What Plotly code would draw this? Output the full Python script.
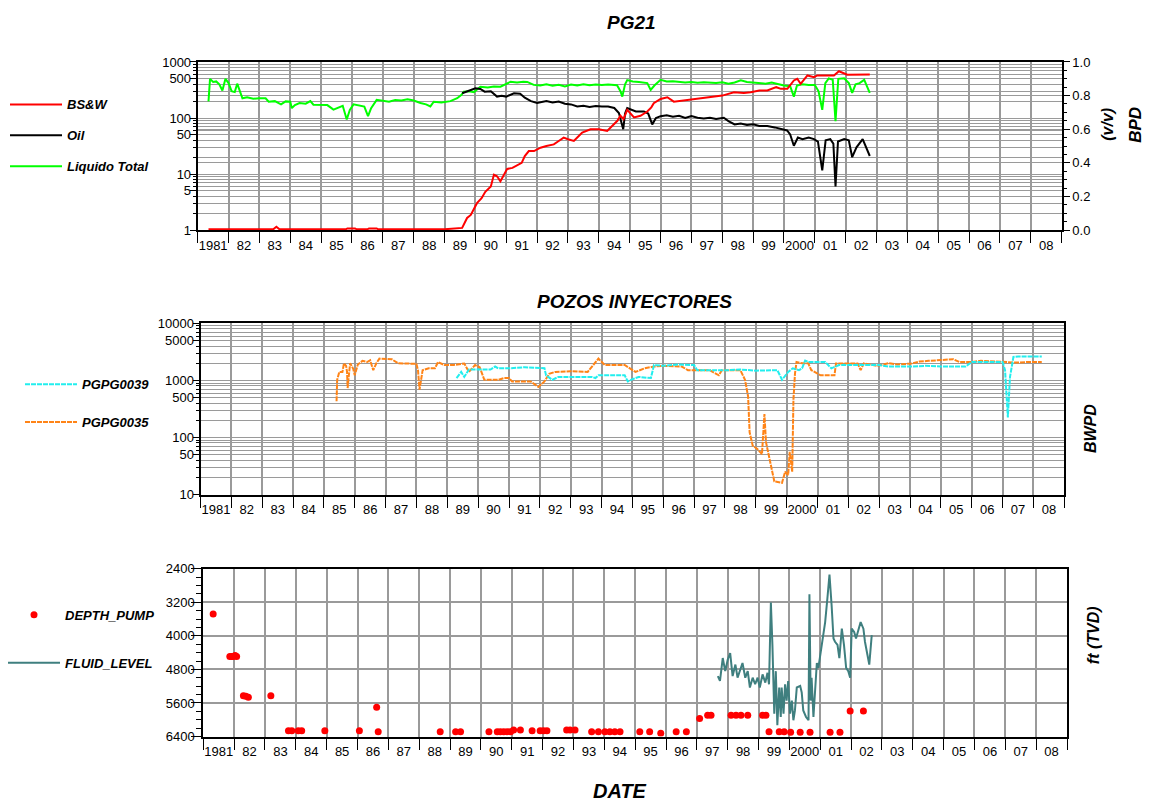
import plotly.graph_objects as go

W, H = 1151, 812
FONT = "Liberation Sans, Arial, sans-serif"

# ---------------- DATA ----------------
year_labels = ["1981", "82", "83", "84", "85", "86", "87", "88", "89", "90", "91", "92", "93", "94",
               "95", "96", "97", "98", "99", "2000", "01", "02", "03", "04", "05", "06", "07", "08"]

# Panel 1: PG21
bsw_t = [1981.35, 1983.45, 1983.55, 1983.65, 1985.80, 1985.85, 1986.10, 1986.15, 1986.50, 1986.55, 1986.80, 1986.85,
         1989.00, 1989.30, 1989.57, 1989.73, 1989.85, 1990.05, 1990.20, 1990.32, 1990.50, 1990.60, 1990.70, 1990.81,
         1991.03, 1991.20, 1991.35, 1991.50, 1991.60, 1991.73, 1991.90, 1992.11, 1992.30, 1992.54, 1992.70, 1992.86,
         1993.00, 1993.19, 1993.35, 1993.46, 1993.73, 1994.00, 1994.27, 1994.49, 1994.60, 1994.70, 1994.80, 1994.92,
         1995.05, 1995.14, 1995.35, 1995.57, 1995.70, 1995.78, 1996.00, 1996.22, 1996.43, 1996.70, 1996.97, 1997.30,
         1997.62, 1998.00, 1998.38, 1998.70, 1998.92, 1999.20, 1999.46, 1999.75, 1999.90, 2000.11, 2000.32, 2000.43,
         2000.54, 2000.76, 2000.97, 2001.08, 2001.62, 2001.78, 2002.05, 2002.70, 2002.78]
bsw_v = [0.005, 0.005, 0.02, 0.005, 0.005, 0.01, 0.01, 0.005, 0.005, 0.01, 0.01, 0.005,
         0.005, 0.01, 0.013, 0.072, 0.09, 0.16, 0.19, 0.228, 0.26, 0.33, 0.32, 0.29,
         0.364, 0.37, 0.384, 0.40, 0.44, 0.47, 0.47, 0.49, 0.50, 0.51, 0.53, 0.55,
         0.54, 0.53, 0.56, 0.58, 0.60, 0.60, 0.59, 0.63, 0.65, 0.68, 0.66, 0.715,
         0.69, 0.67, 0.68, 0.705, 0.73, 0.755, 0.78, 0.79, 0.764, 0.77, 0.774, 0.78,
         0.79, 0.80, 0.82, 0.815, 0.82, 0.83, 0.83, 0.85, 0.84, 0.84, 0.89, 0.90,
         0.87, 0.92, 0.91, 0.92, 0.92, 0.945, 0.924, 0.924, 0.925]

oil_t = [1989.57, 1989.75, 1990.00, 1990.16, 1990.30, 1990.50, 1990.70, 1990.85, 1991.00, 1991.25, 1991.45, 1991.60,
         1991.80, 1992.00, 1992.10, 1992.30, 1992.50, 1992.70, 1992.90, 1993.10, 1993.30, 1993.50, 1993.70, 1993.90,
         1994.10, 1994.30, 1994.50, 1994.65, 1994.79, 1994.85, 1994.92, 1995.05, 1995.20, 1995.46, 1995.60, 1995.73,
         1995.85, 1996.00, 1996.20, 1996.40, 1996.60, 1996.80, 1997.00, 1997.20, 1997.40, 1997.60, 1997.80, 1998.05,
         1998.20, 1998.40, 1998.60, 1998.80, 1999.00, 1999.20, 1999.46, 1999.70, 1999.90, 2000.10, 2000.20, 2000.32,
         2000.45, 2000.60, 2000.80, 2000.97, 2001.10, 2001.24, 2001.35, 2001.50, 2001.60, 2001.67, 2001.75, 2001.95,
         2002.10, 2002.21, 2002.35, 2002.55, 2002.78]
oil_v = [277, 300, 339, 330, 295, 300, 241, 250, 241, 277, 270, 230,
         200, 185, 190, 200, 190, 197, 180, 175, 161, 165, 158, 163,
         160, 161, 151, 123, 63, 120, 151, 140, 131, 131, 120, 77,
         100, 108, 112, 105, 110, 100, 108, 101, 98, 101, 96, 101,
         88, 77, 80, 75, 77, 72, 72, 68, 63, 60, 51, 32,
         45, 42, 45, 42, 38, 11.6, 40, 42, 35, 6, 38, 42,
         40, 20, 30, 42, 21]

liq_t = [1981.35, 1981.40, 1981.50, 1981.60, 1981.70, 1981.80, 1981.90, 1982.00, 1982.10, 1982.20, 1982.28, 1982.38,
         1982.45, 1982.60, 1982.80, 1983.00, 1983.20, 1983.30, 1983.50, 1983.70, 1983.85, 1984.00, 1984.05, 1984.15,
         1984.30, 1984.50, 1984.65, 1984.75, 1985.00, 1985.20, 1985.40, 1985.55, 1985.70, 1985.83, 1985.93, 1986.05,
         1986.20, 1986.40, 1986.52, 1986.62, 1986.80, 1987.00, 1987.20, 1987.40, 1987.60, 1987.80, 1988.00, 1988.22,
         1988.40, 1988.54, 1988.65, 1988.90, 1989.19, 1989.41, 1989.55, 1989.62, 1989.80, 1989.95, 1990.16, 1990.40,
         1990.60, 1990.81, 1991.00, 1991.14, 1991.35, 1991.55, 1991.68, 1991.89, 1992.10, 1992.30, 1992.50, 1992.70,
         1992.90, 1993.10, 1993.30, 1993.50, 1993.70, 1993.90, 1994.10, 1994.30, 1994.59, 1994.70, 1994.76, 1994.85,
         1994.92, 1995.10, 1995.30, 1995.57, 1995.68, 1995.80, 1996.00, 1996.20, 1996.40, 1996.60, 1996.80, 1997.00,
         1997.20, 1997.40, 1997.60, 1997.80, 1998.00, 1998.20, 1998.40, 1998.60, 1998.80, 1999.00, 1999.20, 1999.40,
         1999.60, 1999.80, 2000.00, 2000.20, 2000.32, 2000.42, 2000.60, 2000.80, 2001.00, 2001.12, 2001.24, 2001.34,
         2001.45, 2001.58, 2001.67, 2001.76, 2001.95, 2002.10, 2002.21, 2002.32, 2002.45, 2002.60, 2002.78]
liq_v = [198, 500, 440, 450, 400, 310, 500, 420, 300, 290, 410, 280,
         225, 235, 220, 225, 225, 195, 200, 175, 198, 195, 150, 170,
         185, 180, 200, 173, 172, 170, 141, 155, 165, 94, 140, 175,
         170, 160, 108, 150, 211, 200, 195, 210, 205, 215, 205, 185,
         175, 161, 195, 190, 200, 226, 260, 295, 300, 290, 362, 350,
         365, 362, 400, 444, 430, 445, 440, 390, 380, 400, 375, 390,
         365, 395, 380, 400, 385, 395, 390, 395, 385, 300, 241, 400,
         475, 450, 440, 420, 318, 380, 480, 450, 455, 440, 430, 440,
         425, 435, 430, 420, 435, 410, 430, 470, 440, 430, 420, 410,
         430, 400, 380, 370, 240, 380, 400, 390, 390, 300, 140, 420,
         510, 480, 88, 500, 510, 420, 280, 400, 420, 480, 280]

# Panel 2: POZOS INYECTORES
p39_t = [1989.30, 1989.45, 1989.55, 1989.70, 1990.00, 1990.40, 1990.55, 1990.65, 1991.00, 1991.50, 1992.15, 1992.20,
         1992.40, 1992.60, 1993.00, 1993.70, 1993.80, 1993.90, 1994.75, 1994.85, 1995.00, 1995.20, 1995.60, 1995.70,
         1996.00, 1996.50, 1997.00, 1997.10, 1998.00, 1998.50, 1999.00, 1999.70, 1999.85, 2000.05, 2000.20, 2000.40,
         2000.50, 2000.60, 2000.70, 2001.25, 2001.45, 2001.70, 2003.00, 2003.30, 2004.00, 2004.50, 2005.00, 2005.80,
         2006.00, 2007.00, 2007.08, 2007.17, 2007.24, 2007.35, 2007.50, 2008.27]
p39_v = [1100, 1410, 1150, 1550, 1550, 1550, 1750, 1630, 1630, 1700, 1630, 1230,
         1025, 1150, 1150, 1150, 1100, 1230, 1230, 960, 1050, 1150, 1100, 1860,
         1800, 1900, 1860, 1510, 1500, 1550, 1480, 1510, 1025, 1410, 1630, 1510,
         1630, 2230, 2100, 2100, 1630, 1860, 1860, 1750, 1750, 1800, 1750, 1750,
         2100, 2100, 1510, 224, 1150, 2570, 2630, 2630]

p35_t = [1985.41, 1985.43, 1985.50, 1985.60, 1985.65, 1985.72, 1985.75, 1985.77, 1985.80, 1985.85, 1985.95, 1986.00,
         1986.10, 1986.25, 1986.40, 1986.50, 1986.60, 1986.70, 1986.80, 1987.00, 1987.20, 1987.40, 1987.60, 1987.80,
         1988.00, 1988.05, 1988.10, 1988.20, 1988.40, 1988.60, 1988.70, 1988.90, 1989.20, 1989.55, 1989.70, 1989.90,
         1990.05, 1990.20, 1990.65, 1990.85, 1991.00, 1991.10, 1991.70, 1991.95, 1992.15, 1992.30, 1992.50, 1993.00,
         1993.55, 1993.90, 1994.10, 1994.75, 1995.10, 1995.40, 1995.70, 1996.00, 1996.60, 1996.80, 1997.50, 1997.80,
         1997.90, 1998.50, 1998.65, 1998.75, 1998.80, 1998.90, 1999.05, 1999.20, 1999.28, 1999.33, 1999.50, 1999.60,
         1999.85, 1999.95, 2000.05, 2000.10, 2000.18, 2000.22, 2000.27, 2000.32, 2000.50, 2000.70, 2000.80, 2001.10,
         2001.55, 2001.60, 2002.30, 2002.40, 2002.50, 2002.95, 2003.30, 2003.60, 2004.05, 2004.30, 2004.60, 2005.00,
         2005.40, 2005.60, 2006.00, 2006.30, 2007.50, 2007.80, 2008.27]
p35_v = [431, 1020, 1410, 1400, 1990, 1800, 1410, 735, 1100, 1990, 1600, 1230,
         1900, 2200, 2100, 2250, 1510, 2000, 2410, 2400, 2350, 2000, 2000, 1980,
         1950, 1510, 690, 1510, 1630, 1630, 2100, 1860, 1860, 1980, 1410, 1860,
         1700, 1025, 1025, 1100, 1100, 960, 960, 770, 960, 1300, 1410, 1450,
         1410, 2410, 1860, 1860, 1410, 1630, 1750, 1800, 1750, 1510, 1510, 1230,
         1510, 1510, 1025, 525, 123, 72, 63, 51, 256, 83, 33, 17,
         16, 25, 22, 56, 25, 460, 1320, 2100, 2000, 1990, 1510, 1230,
         1230, 1980, 1980, 1510, 1980, 1800, 2000, 1900, 1980, 2140, 2200, 2300,
         2350, 2100, 2100, 2200, 2050, 2100, 2100]

# Panel 3: depth (ft TVD)
pump_t = [1981.32, 1981.86, 1981.92, 1981.97, 1982.03, 1982.08, 1982.30, 1982.38, 1982.46, 1983.19, 1983.76, 1983.87,
          1984.08, 1984.19, 1984.94, 1986.06, 1986.62, 1986.67, 1988.68, 1989.18, 1989.34, 1990.26, 1990.53, 1990.63,
          1990.74, 1990.85, 1990.96, 1991.06, 1991.28, 1991.66, 1991.92, 1992.03, 1992.14, 1992.78, 1992.89, 1993.05,
          1993.59, 1993.81, 1994.02, 1994.18, 1994.34, 1994.51, 1995.15, 1995.47, 1995.83, 1996.33, 1996.66, 1997.09,
          1997.35, 1997.46, 1998.11, 1998.27, 1998.43, 1998.65, 1999.13, 1999.24, 1999.34, 1999.67, 1999.83, 2000.04,
          2000.35, 2000.67, 2001.32, 2001.64, 2001.97, 2002.40]
pump_v = [3477, 4490, 4490, 4490, 4470, 4490, 5426, 5440, 5465, 5426, 6260, 6260,
          6260, 6260, 6260, 6260, 5699, 6284, 6284, 6284, 6284, 6284, 6284, 6284,
          6284, 6284, 6284, 6245, 6245, 6260, 6260, 6260, 6260, 6245, 6245, 6245,
          6284, 6284, 6284, 6284, 6284, 6284, 6284, 6284, 6323, 6284, 6284, 5972,
          5894, 5894, 5894, 5894, 5894, 5894, 5894, 5894, 6284, 6284, 6284, 6299,
          6299, 6299, 6299, 6299, 5792, 5792]

fluid_t = [1997.68, 1997.75, 1997.84, 1997.92, 1998.00, 1998.08, 1998.16, 1998.25, 1998.32, 1998.40, 1998.48, 1998.57,
           1998.65, 1998.72, 1998.81, 1998.89, 1998.97, 1999.04, 1999.13, 1999.22, 1999.29, 1999.34, 1999.40, 1999.45,
           1999.51, 1999.56, 1999.61, 1999.67, 1999.72, 1999.75, 1999.81, 1999.86, 1999.91, 1999.96, 2000.02, 2000.08,
           2000.13, 2000.18, 2000.24, 2000.35, 2000.40, 2000.45, 2000.54, 2000.62, 2000.65, 2000.69, 2000.72, 2000.78,
           2000.84, 2000.89, 2000.94, 2000.99, 2001.08, 2001.16, 2001.23, 2001.30, 2001.37, 2001.43, 2001.48, 2001.56,
           2001.62, 2001.70, 2001.77, 2001.84, 2001.91, 2001.97, 2002.02, 2002.10, 2002.16, 2002.24, 2002.31, 2002.40,
           2002.45, 2002.53, 2002.59, 2002.67]
fluid_v = [4958, 5075, 4529, 4841, 4568, 4412, 4958, 4685, 4997, 4841, 4646, 4997,
           4841, 5231, 4997, 5153, 4997, 5231, 4919, 5114, 4880, 5153, 3204, 4217,
           5855, 4841, 6128, 5231, 5933, 5231, 5855, 5153, 5543, 5075, 5855, 5543,
           6011, 5777, 5231, 5192, 5348, 5777, 5933, 6011, 3009, 5543, 4997, 5933,
           5075, 4646, 4763, 4529, 4140, 3672, 3126, 2541, 3282, 4062, 4140, 4217,
           4529, 3828, 4217, 4763, 4841, 4997, 3828, 3906, 4062, 3828, 3672, 3828,
           4140, 4451, 4685, 3984]

# ---------------- FIGURE ----------------
year_starts = list(range(1981, 2010))
year_mids = [y + 0.5 for y in range(1981, 2009)]

GRID = "#9a9a9a"
tickfont = dict(family=FONT, size=13, color="black")

def log_minor(lo, hi):
    vals = []
    for d in range(lo, hi):
        for m in (2, 3, 4, 6, 7, 8, 9):
            vals.append(m * 10 ** d)
    return vals

def xaxis_cfg(domain, anchor):
    return dict(domain=domain, anchor=anchor, range=[1981, 2009],
                tickmode="array", tickvals=year_mids, ticktext=year_labels,
                ticks="outside", ticklen=2, tickcolor="rgba(0,0,0,0)", showgrid=False,
                tickfont=tickfont, showline=True, linecolor="black", linewidth=2, mirror=True,
                minor=dict(tickmode="array", tickvals=year_starts, ticks="outside", ticklen=11,
                           tickcolor="black", tickwidth=1, showgrid=True, gridcolor=GRID, gridwidth=1.5),
                zeroline=False)

fig = go.Figure()

# drawing order: lower layers first; legend order via legendrank
fig.add_trace(go.Scatter(x=liq_t, y=liq_v, name="Liquido Total", mode="lines", line=dict(color="#00ff00", width=2),
                         xaxis="x", yaxis="y", legend="legend", legendgroup="g3", legendrank=3))
fig.add_trace(go.Scatter(x=oil_t, y=oil_v, name="Oil", mode="lines", line=dict(color="#000000", width=2),
                         xaxis="x", yaxis="y", legend="legend", legendgroup="g2", legendrank=2))
fig.add_trace(go.Scatter(x=bsw_t, y=bsw_v, name="BS&W", mode="lines", line=dict(color="#ff0000", width=2),
                         xaxis="x", yaxis="y2", legend="legend", legendgroup="g1", legendrank=1))

fig.add_trace(go.Scatter(x=p35_t, y=p35_v, name="PGPG0035", mode="lines",
                         line=dict(color="#ff8417", width=2, dash="5px,1px"),
                         xaxis="x2", yaxis="y3", legend="legend2", legendgroup="h2", legendrank=2))
fig.add_trace(go.Scatter(x=p39_t, y=p39_v, name="PGPG0039", mode="lines",
                         line=dict(color="#22eeee", width=2, dash="5px,1px"),
                         xaxis="x2", yaxis="y3", legend="legend2", legendgroup="h1", legendrank=1))

fig.add_trace(go.Scatter(x=pump_t, y=pump_v, name="DEPTH_PUMP", mode="markers",
                         marker=dict(color="#ff0000", size=7, symbol="circle"),
                         xaxis="x3", yaxis="y4", legend="legend3", legendgroup="k1", legendrank=1))
fig.add_trace(go.Scatter(x=fluid_t, y=fluid_v, name="FLUID_LEVEL", mode="lines",
                         line=dict(color="#3f7f7f", width=2),
                         xaxis="x3", yaxis="y4", legend="legend3", legendgroup="k2", legendrank=2))

dom_top_x = [197.7 / W, 1061.7 / W]
dom_mid_x = [200.5 / W, 1064.3 / W]
dom_bot_x = [203.3 / W, 1067.0 / W]
dom_top_y = [1 - 227.3 / H, 1 - 56.0 / H]
dom_mid_y = [1 - 496.7 / H, 1 - 322.3 / H]
dom_bot_y = [1 - 743.3 / H, 1 - 572.3 / H]

legend_font = dict(family=FONT, size=13, color="black", weight="bold", style="italic")

def legend_cfg(xp, yp, gap):
    return dict(x=xp / W, y=1 - yp / H, xanchor="left", yanchor="top", bgcolor="rgba(0,0,0,0)",
                font=legend_font, traceorder="grouped", tracegroupgap=gap, itemwidth=52,
                borderwidth=0)

fig.update_layout(
    width=W, height=812, margin=dict(l=0, r=0, t=0, b=0),
    paper_bgcolor="white", plot_bgcolor="white",
    font=dict(family=FONT, size=13, color="black"),
    showlegend=True,
    xaxis=xaxis_cfg(dom_top_x, "y"),
    xaxis2=xaxis_cfg(dom_mid_x, "y3"),
    xaxis3=xaxis_cfg(dom_bot_x, "y4"),
    yaxis=dict(domain=dom_top_y, anchor="x", type="log", range=[0, 3],
               tickmode="array", tickvals=[1, 5, 10, 50, 100, 500, 1000],
               ticktext=["1", "5", "10", "50", "100", "500", "1000"],
               ticks="outside", ticklen=6, tickcolor="black", tickfont=tickfont,
               ticklabelstandoff=-4,
               showgrid=True, gridcolor=GRID, gridwidth=1,
               showline=True, linecolor="black", linewidth=2,
               minor=dict(tickmode="array", tickvals=log_minor(0, 3), ticks="outside", ticklen=3,
                          tickcolor="black", showgrid=True, gridcolor=GRID, gridwidth=1),
               zeroline=False),
    yaxis2=dict(overlaying="y", side="right", anchor="x", range=[0, 1],
                tickmode="linear", tick0=0, dtick=0.2, tickformat=".1f",
                ticks="outside", ticklen=6, tickcolor="black", tickfont=tickfont,
                showgrid=True, gridcolor=GRID, gridwidth=1,
                showline=True, linecolor="black", linewidth=2,
                minor=dict(dtick=0.05, ticks="outside", ticklen=3, tickcolor="black", showgrid=False),
                zeroline=False),
    yaxis3=dict(domain=dom_mid_y, anchor="x2", type="log", range=[1, 4],
                tickmode="array", tickvals=[10, 50, 100, 500, 1000, 5000, 10000],
                ticktext=["10", "50", "100", "500", "1000", "5000", "10000"],
                ticks="outside", ticklen=6, tickcolor="black", tickfont=tickfont,
                ticklabelstandoff=-4,
                showgrid=True, gridcolor=GRID, gridwidth=1,
                showline=True, linecolor="black", linewidth=2, mirror=True,
                minor=dict(tickmode="array", tickvals=log_minor(1, 4), ticks="outside", ticklen=3,
                           tickcolor="black", showgrid=True, gridcolor=GRID, gridwidth=1),
                zeroline=False),
    yaxis4=dict(domain=dom_bot_y, anchor="x3", range=[6400, 2400],
                tickmode="array", tickvals=[2400, 3200, 4000, 4800, 5600, 6400],
                ticks="outside", ticklen=10, tickcolor="black", tickfont=tickfont,
                ticklabelstandoff=-6,
                showgrid=True, gridcolor=GRID, gridwidth=1.5,
                showline=True, linecolor="black", linewidth=2, mirror=True,
                minor=dict(dtick=200, ticks="outside", ticklen=5, tickcolor="black", showgrid=False),
                zeroline=False),
    legend=legend_cfg(5, 84, 11),
    legend2=legend_cfg(20, 369, 18),
    legend3=legend_cfg(3, 604, 28),
)

def ann(text, xp, yp, size, angle=0):
    fig.add_annotation(text=text, x=xp / W, y=1 - yp / H, xref="paper", yref="paper",
                       showarrow=False, textangle=angle, xanchor="center", yanchor="middle",
                       font=dict(family=FONT, size=size, color="black", weight="bold", style="italic"))

ann("PG21", 631, 16, 19)
ann("POZOS INYECTORES", 634, 300, 19)
ann("DATE", 620, 799, 20)
ann("(v/v)", 1108, 120, 16, -90)
ann("BPD", 1136, 120, 17, -90)
ann("BWPD", 1090, 430, 16, -90)
ann("ft (TVD)", 1093, 640, 16, -90)

fig.write_html("out.html")
